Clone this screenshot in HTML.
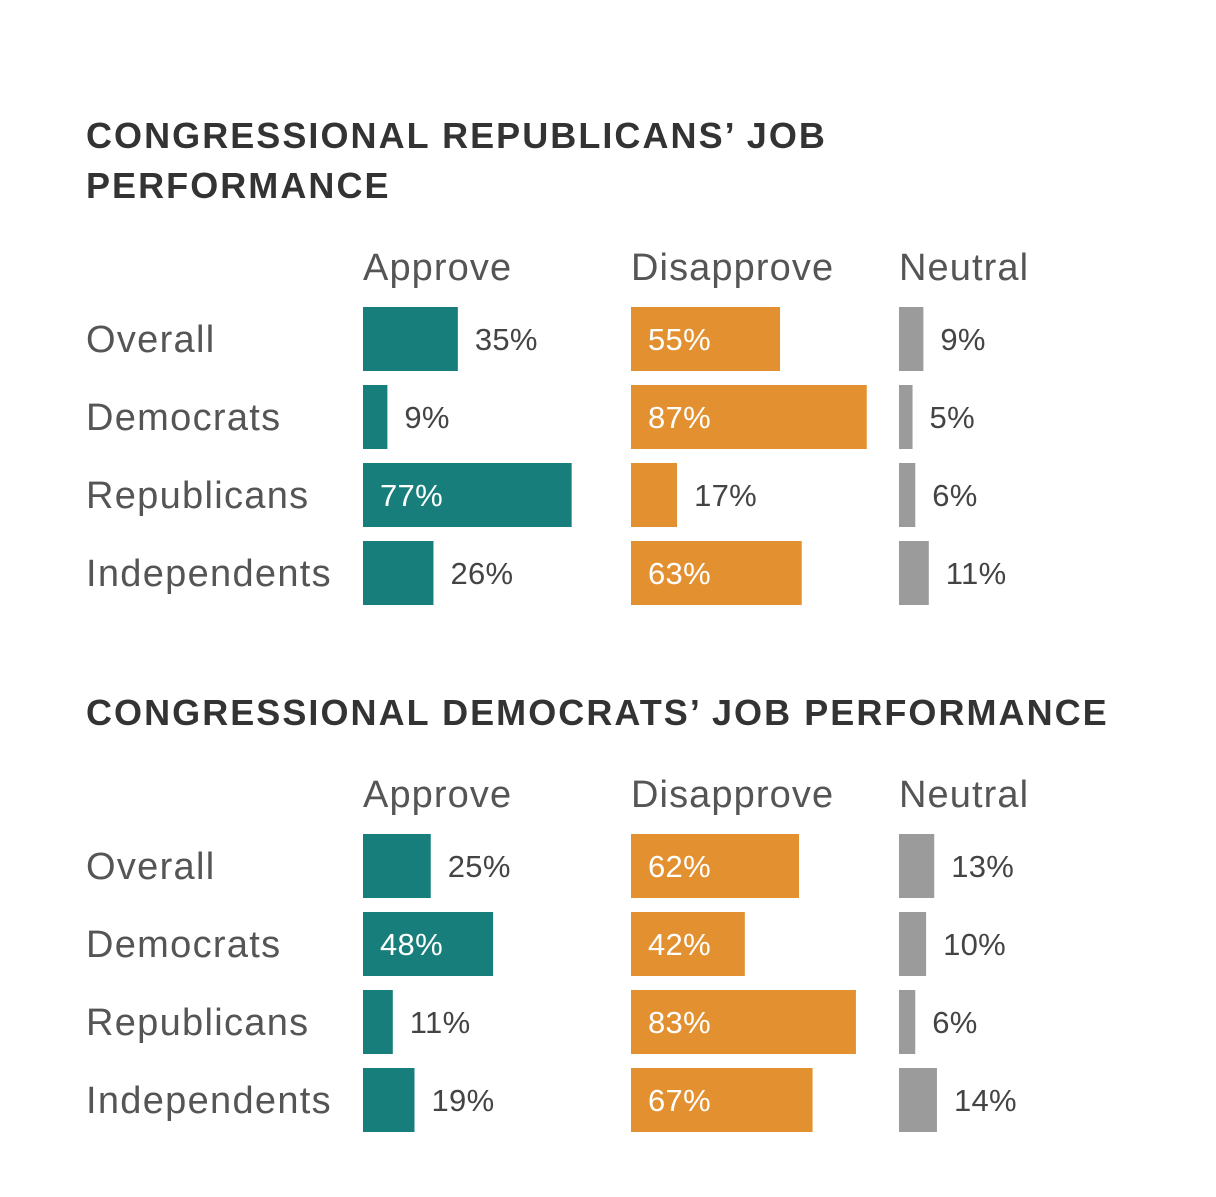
<!DOCTYPE html>
<html><head><meta charset="utf-8"><style>
body{margin:0;background:#fff;width:1216px;height:1197px;overflow:hidden;font-family:"Liberation Sans",sans-serif}
svg{display:block}
</style></head><body>
<svg id="chart" width="1216" height="1197"></svg>
<script>
const groups = ["Overall","Democrats","Republicans","Independents"];
const columns = ["Approve","Disapprove","Neutral"];
const repApprove = [35,9,77,26];
const repDisapprove = [55,87,17,63];
const repNeutral = [9,5,6,11];
const demApprove = [25,48,11,19];
const demDisapprove = [62,42,83,67];
const demNeutral = [13,10,6,14];
const titles = ["CONGRESSIONAL REPUBLICANS\u2019 JOB","PERFORMANCE","CONGRESSIONAL DEMOCRATS\u2019 JOB PERFORMANCE"];

const NS="http://www.w3.org/2000/svg";
const svg=document.getElementById('chart');
const colX=[363,631,899], colors=["#177e7b","#e39030","#9b9b9b"];
const scale=v=>v*2.71;
function mk(tag,attrs,parent){const e=document.createElementNS(NS,tag);for(const k in attrs)e.setAttribute(k,attrs[k]);(parent||svg).appendChild(e);return e;}
function txt(s,x,y,size,fill,weight,ls,parent){const t=mk('text',{x:x,y:y,'font-size':size,fill:fill,'font-weight':weight||'normal','letter-spacing':ls||0,'font-family':'"Liberation Sans",sans-serif'},parent);t.textContent=s;return t;}

function panel(titleLines,titleY,headerY,rowTop,series,key){
  const g=mk('g',{});
  
  
  titleLines.forEach((l,i)=>{const t=txt(l,86,titleY+i*50,36,'#333','bold',2.05,g);
    
    });
  columns.forEach((c,i)=>{const t=txt(c,colX[i],headerY,38,'#555','normal',1.1,g);
    
    });
  groups.forEach((grp,r)=>{
    const y=rowTop+r*78;
    const t=txt(grp,86,y+45,38,'#555','normal',1.3,g);
    
    
    series.forEach((arr,ci)=>{
      const v=arr[r], w=scale(v);
      const b=mk('rect',{x:colX[ci],y:y,width:w,height:64,fill:colors[ci]},g);
      
      
      const inside=ci<2&&v>40;
      const lt=txt(v+'%',inside?colX[ci]+17:colX[ci]+w+17,y+43,31,inside?'#fff':'#444','normal',0.3,g);
      
      
    });
  });
}
panel([titles[0],titles[1]],148,280,307,[repApprove,repDisapprove,repNeutral],'republicans');
panel([titles[2]],725,807,834,[demApprove,demDisapprove,demNeutral],'democrats');
</script>
</body></html>
